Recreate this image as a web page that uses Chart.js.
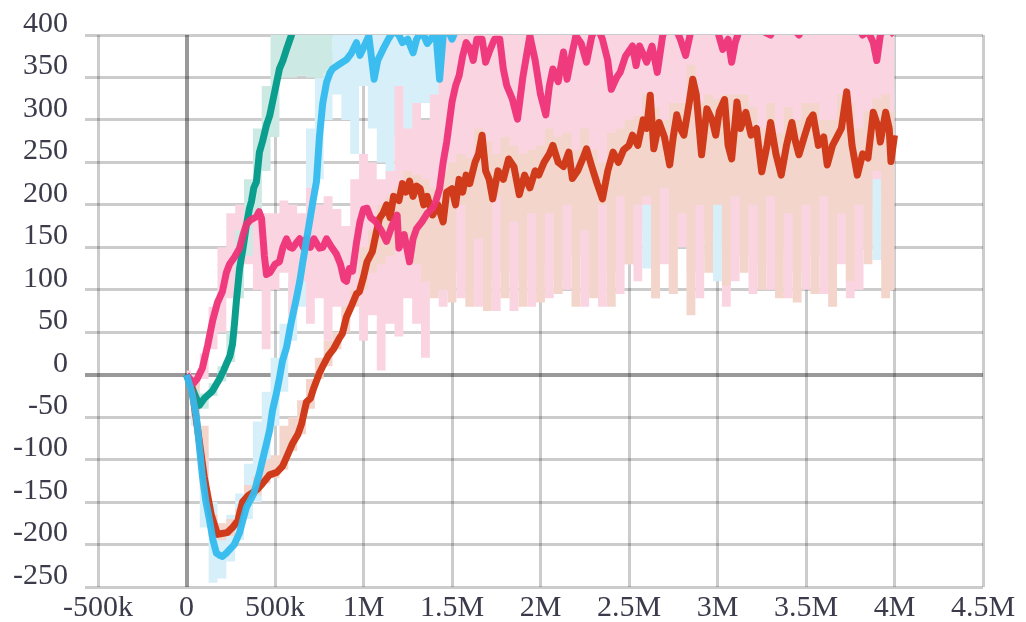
<!DOCTYPE html>
<html>
<head>
<meta charset="utf-8">
<script src="https://cdn.jsdelivr.net/npm/chart.js@4/dist/chart.umd.min.js"></script>
<style>
  html, body { margin: 0; padding: 0; background: #ffffff; }
  #wrap { width: 1026px; height: 622px; }
</style>
</head>
<body>
<div id="wrap"><canvas id="rewardChart" width="1026" height="622"></canvas></div>
<script>

// axis ticks
const xTicks = [-500000, 0, 500000, 1000000, 1500000, 2000000, 2500000, 3000000, 3500000, 4000000, 4500000];
const xTickLabels = ["-500k", "0", "500k", "1M", "1.5M", "2M", "2.5M", "3M", "3.5M", "4M", "4.5M"];
const yTicks = [-250, -200, -150, -100, -50, 0, 50, 100, 150, 200, 250, 300, 350, 400];
const yTickLabels = ["-250", "-200", "-150", "-100", "-50", "0", "50", "100", "150", "200", "250", "300", "350", "400"];

// smoothed curves (steps in thousands)
const tealSteps = [0, 40, 73, 100, 147, 186, 210, 226, 245, 260, 271, 282, 300, 320, 339, 356, 367, 380, 395, 412, 430, 452, 470, 486, 505, 525, 545, 565, 593, 620, 660];
const tealReward = [0, -20, -36, -28, -19, -5, 5, 13, 22, 36, 60, 87, 125, 150, 177, 196, 204, 220, 227, 262, 275, 294, 305, 321, 340, 360, 370, 383, 400, 420, 440];

const cyanSteps = [0, 30, 56, 90, 110, 130, 150, 169, 190, 203, 225, 243, 270, 300, 320, 339, 360, 380, 412, 430, 452, 470, 486, 508, 525, 542, 565, 590, 621, 640, 655, 675, 695, 715, 734, 751, 770, 791, 810, 825, 860, 904, 930, 960, 980, 1000, 1030, 1060, 1080, 1110, 1140, 1170, 1200, 1220, 1250, 1280, 1300, 1330, 1360, 1390, 1410, 1430, 1450, 1470, 1500, 1530, 1560, 1600, 1700];
const cyanReward = [0, -20, -50, -120, -150, -171, -195, -210, -213, -214, -210, -206, -200, -186, -170, -156, -148, -140, -116, -100, -81, -65, -42, -22, -4, 16, 32, 60, 90, 110, 130, 155, 180, 205, 227, 280, 320, 344, 355, 360, 365, 371, 378, 391, 376, 385, 399, 348, 370, 383, 395, 405, 400, 391, 395, 379, 395, 405, 390, 398, 400, 348, 399, 410, 395, 410, 420, 430, 435];

const redSteps = [0, 30, 60, 100, 140, 175, 200, 230, 260, 290, 316, 350, 400, 430, 469, 510, 542, 570, 599, 630, 650, 678, 700, 720, 751, 775, 800, 830, 864, 880, 904, 930, 960, 977, 1000, 1020, 1050, 1070, 1090, 1110, 1130, 1150, 1170, 1200, 1220, 1240, 1260, 1280, 1300, 1320, 1340, 1360, 1390, 1420, 1450, 1470, 1500, 1520, 1540, 1560, 1580, 1600, 1630, 1650, 1670, 1690, 1710, 1730, 1760, 1790, 1820, 1850, 1880, 1910, 1940, 1970, 1990, 2020, 2050, 2070, 2100, 2130, 2160, 2180, 2210, 2240, 2260, 2290, 2320, 2350, 2380, 2410, 2440, 2470, 2500, 2520, 2550, 2580, 2600, 2620, 2640, 2670, 2700, 2730, 2750, 2770, 2790, 2810, 2840, 2860, 2880, 2910, 2940, 2970, 2990, 3010, 3040, 3060, 3080, 3110, 3130, 3160, 3190, 3220, 3250, 3280, 3300, 3330, 3360, 3390, 3420, 3440, 3460, 3490, 3520, 3540, 3570, 3600, 3620, 3650, 3670, 3700, 3730, 3760, 3790, 3820, 3850, 3880, 3910, 3920, 3950, 3970, 3980, 4000];
const redReward = [0, -15, -60, -120, -165, -188, -187, -186, -180, -172, -150, -142, -135, -128, -118, -115, -108, -95, -81, -70, -58, -32, -28, -15, 2, 12, 22, 30, 43, 48, 68, 80, 95, 98, 115, 133, 145, 165, 184, 190, 200, 185, 210, 205, 225, 215, 228, 210, 222, 219, 200, 210, 188, 200, 180, 215, 219, 200, 230, 215, 235, 225, 250, 260, 282, 240, 230, 207, 240, 230, 254, 245, 212, 235, 220, 240, 235, 250, 260, 270, 250, 245, 262, 231, 240, 255, 266, 245, 225, 207, 240, 262, 250, 265, 270, 282, 270, 300, 290, 329, 266, 297, 280, 247, 280, 306, 290, 282, 320, 348, 330, 259, 313, 300, 282, 310, 324, 270, 254, 321, 290, 309, 282, 290, 239, 270, 297, 260, 235, 270, 297, 275, 259, 280, 300, 306, 270, 280, 247, 270, 278, 290, 333, 270, 235, 260, 255, 309, 290, 274, 309, 290, 251, 282];

const pinkSteps = [0, 20, 40, 60, 90, 120, 147, 175, 203, 225, 243, 270, 300, 320, 339, 360, 395, 410, 424, 440, 452, 470, 500, 525, 545, 565, 585, 599, 620, 640, 660, 678, 700, 720, 751, 770, 791, 820, 847, 870, 890, 904, 920, 938, 960, 980, 1000, 1020, 1040, 1070, 1100, 1130, 1160, 1190, 1200, 1230, 1260, 1280, 1300, 1330, 1360, 1390, 1410, 1430, 1450, 1470, 1500, 1520, 1540, 1560, 1580, 1600, 1620, 1640, 1670, 1690, 1710, 1740, 1770, 1790, 1810, 1840, 1870, 1900, 1940, 1970, 2000, 2030, 2050, 2070, 2100, 2130, 2150, 2180, 2200, 2230, 2260, 2290, 2320, 2350, 2380, 2400, 2430, 2450, 2480, 2520, 2540, 2560, 2600, 2630, 2660, 2690, 2720, 2760, 2790, 2820, 2850, 2890, 2930, 2970, 3000, 3030, 3060, 3080, 3100, 3130, 3170, 3210, 3250, 3300, 3340, 3380, 3420, 3460, 3500, 3540, 3580, 3620, 3660, 3700, 3740, 3780, 3820, 3850, 3880, 3900, 3920, 3950, 3980, 4000];
const pinkReward = [0, -5, -10, -5, 8, 35, 63, 85, 98, 120, 130, 138, 149, 165, 177, 182, 186, 192, 184, 140, 118, 120, 130, 133, 150, 160, 150, 149, 155, 160, 150, 160, 150, 160, 149, 150, 160, 150, 142, 130, 112, 110, 125, 122, 155, 180, 195, 196, 185, 180, 170, 157, 175, 188, 149, 165, 133, 160, 172, 180, 190, 196, 205, 219, 250, 274, 321, 340, 352, 375, 391, 385, 370, 395, 395, 368, 380, 395, 395, 360, 340, 325, 301, 350, 399, 370, 330, 306, 340, 360, 345, 380, 348, 380, 399, 390, 368, 399, 410, 395, 370, 336, 350, 356, 375, 387, 364, 387, 368, 387, 356, 399, 415, 410, 395, 376, 405, 420, 415, 410, 405, 383, 395, 368, 391, 410, 420, 415, 405, 400, 415, 420, 410, 400, 415, 410, 420, 415, 405, 410, 405, 415, 400, 405, 391, 370, 400, 410, 405, 400];

// spread across runs, sampled every 50k steps
const bandSteps = [
  0, 50, 100, 150, 200, 250, 300, 350, 400, 450,
  500, 550, 600, 650, 700, 750, 800, 850, 900, 950,
  1000, 1050, 1100, 1150, 1200, 1250, 1300, 1350, 1400, 1450,
  1500, 1550, 1600, 1650, 1700, 1750, 1800, 1850, 1900, 1950,
  2000, 2050, 2100, 2150, 2200, 2250, 2300, 2350, 2400, 2450,
  2500, 2550, 2600, 2650, 2700, 2750, 2800, 2850, 2900, 2950,
  3000, 3050, 3100, 3150, 3200, 3250, 3300, 3350, 3400, 3450,
  3500, 3550, 3600, 3650, 3700, 3750, 3800, 3850, 3900, 3950,
  4000
];

const tealLow = [0, -38, -40, -25, -8, 15, 90, 140, 190, 240, 280, 350, 350, 352, 350, 350, 355, 420, 450, 450, 450];
const tealHigh = [0, -20, -22, -10, 10, 50, 170, 230, 290, 340, 400, 420, 450, 450, 450, 450, 450, 450, 450, 450, 450];

const cyanLow = [
  0, -60, -180, -245, -240, -220, -195, -170, -150, -100,
  -60, -20, 40, 80, 150, 230, 300, 330, 300, 260,
  340, 290, 250, 230, 280, 240, 260, 320, 270, 230,
  170, 200, 180, 240, 160, 210, 150, 190, 220, 170,
  200, 160, 230, 180, 150, 190, 200, 180, 130, 160,
  200, 170, 125, 190, 210, 150, 180, 190, 140, 170,
  110, 160, 150, 200, 170, 210, 190, 150, 180, 200,
  160, 220, 200, 170, 190, 210, 180, 200, 135, 210,
  200
];
const cyanHigh = [
  0, -20, -90, -150, -175, -165, -140, -105, -55, -20,
  20, 60, 110, 180, 290, 350, 380, 420, 450, 450,
  450, 450, 450, 450, 450, 450, 450, 450, 450, 450,
  450, 450, 450, 450, 450, 450, 450, 450, 450, 450,
  450, 450, 450, 450, 450, 450, 450, 450, 450, 450,
  450, 450, 450, 450, 450, 450, 450, 450, 450, 450,
  450, 450, 450, 450, 450, 450, 450, 450, 450, 450,
  450, 450, 450, 450, 450, 450, 450, 450, 450, 450,
  450
];

const redLow = [
  0, -50, -135, -190, -195, -190, -178, -150, -142, -128,
  -122, -112, -90, -70, -40, -5, 10, 30, 50, 80,
  100, 120, 130, 140, 150, 150, 130, 110, 90, 100,
  85, 200, 80, 160, 75, 210, 90, 180, 80, 190,
  85, 190, 95, 200, 80, 170, 90, 200, 80, 210,
  130, 200, 210, 90, 220, 95, 190, 70, 200, 120,
  200, 105, 210, 120, 200, 100, 210, 90, 190, 85,
  200, 95, 210, 80, 190, 110, 200, 130, 240, 90,
  100
];
const redHigh = [
  0, -10, -60, -165, -175, -170, -158, -130, -120, -100,
  -95, -60, -50, -30, -5, 20, 40, 50, 80, 100,
  150, 170, 200, 210, 220, 240, 235, 230, 220, 240,
  250, 260, 255, 290, 275, 260, 280, 270, 260, 265,
  270, 290, 280, 285, 265, 290, 265, 250, 285, 290,
  300, 305, 330, 315, 300, 320, 320, 365, 320, 330,
  325, 330, 330, 330, 315, 290, 320, 285, 315, 300,
  320, 320, 300, 300, 330, 320, 290, 310, 325, 330,
  310
];

const pinkLow = [
  0, -15, -5, 30, 50, 90, 110, 130, 100, 30,
  100, 120, 70, 110, 60, 90, 40, 80, 60, 90,
  40, 70, 5, 60, 45, 90, 60, 20, 100, 80,
  120, 90, 100, 80, 110, 75, 120, 75, 110, 80,
  130, 90, 110, 100, 140, 80, 100, 80, 120, 95,
  130, 110, 200, 90, 130, 95, 150, 120, 90, 160,
  220, 80, 110, 140, 95, 130, 100, 150, 90, 120,
  100, 140, 95, 110, 130, 90, 100, 150, 230, 130,
  100
];
const pinkHigh = [
  5, 0, 25, 80, 150, 190, 200, 210, 230, 190,
  190, 205, 200, 190, 220, 200, 210, 195, 175, 230,
  260, 250, 230, 240, 340, 290, 320, 300, 330, 420,
  450, 450, 450, 450, 450, 450, 450, 450, 450, 450,
  450, 450, 450, 450, 450, 450, 450, 450, 450, 450,
  450, 450, 450, 450, 450, 450, 450, 450, 450, 450,
  450, 450, 450, 450, 450, 450, 450, 450, 450, 450,
  450, 450, 450, 450, 450, 450, 450, 450, 450, 450,
  450
];

const TEAL = "0, 153, 136";
const CYAN = "51, 187, 238";
const RED = "204, 51, 17";
const PINK = "238, 51, 119";

// pale, opaque versions of the line colours for the spread
const TEAL_PALE = "rgb(204, 233, 227)";
const CYAN_PALE = "rgb(214, 239, 249)";
const RED_PALE = "rgb(243, 213, 204)";
const PINK_PALE = "rgb(250, 213, 225)";

function toPoints(steps, values) {
    return values.map((v, i) => ({ x: steps[i] * 1000, y: v }));
}

function curve(steps, values, rgb, order) {
    return {
        data: toPoints(steps, values),
        borderColor: "rgba(" + rgb + ", 0.95)",
        borderWidth: 7,
        borderJoinStyle: "round",
        pointRadius: 0,
        fill: false,
        order: order
    };
}

// a band is a borderless lower line plus an upper line filled down to it
function band(low, high, color, lowIndex, order) {
    return [
        {
            data: toPoints(bandSteps, low),
            borderWidth: 0,
            borderColor: "rgba(0,0,0,0)",
            pointRadius: 0,
            stepped: "middle",
            fill: false,
            order: order
        },
        {
            data: toPoints(bandSteps, high),
            borderWidth: 0,
            borderColor: "rgba(0,0,0,0)",
            backgroundColor: color,
            pointRadius: 0,
            stepped: "middle",
            fill: lowIndex,
            order: order
        }
    ];
}

// higher order is painted first
const datasets = [
    ...band(cyanLow, cyanHigh, CYAN_PALE, 0, 14),
    ...band(pinkLow, pinkHigh, PINK_PALE, 2, 13),
    ...band(redLow, redHigh, RED_PALE, 4, 12),
    ...band(tealLow, tealHigh, TEAL_PALE, 6, 11),
    curve(tealSteps, tealReward, TEAL, 4),
    curve(redSteps, redReward, RED, 3),
    curve(pinkSteps, pinkReward, PINK, 2),
    curve(cyanSteps, cyanReward, CYAN, 1)
];

const font = { family: "'Liberation Serif', 'DejaVu Serif', serif", size: 30 };

function gridColor(ctx) {
    return ctx.tick && ctx.tick.value === 0 ? "rgba(0,0,0,0.4)" : "rgba(0,0,0,0.2)";
}
function gridWidth(ctx) {
    return ctx.tick && ctx.tick.value === 0 ? 4 : 3;
}

new Chart(document.getElementById("rewardChart"), {
    type: "line",
    data: { datasets: datasets },
    options: {
        responsive: false,
        animation: false,
        layout: { padding: { top: 32, right: 43, left: 0, bottom: 0 } },
        plugins: {
            legend: { display: false },
            tooltip: { enabled: false }
        },
        scales: {
            x: {
                type: "linear",
                min: -500000,
                max: 4500000,
                z: 1,
                border: { display: false },
                grid: { color: gridColor, lineWidth: gridWidth, drawTicks: false },
                ticks: {
                    stepSize: 500000,
                    autoSkip: false,
                    maxRotation: 0,
                    padding: 3,
                    color: "#3b3b4b",
                    font: font,
                    callback: (v) => {
                        const i = xTicks.indexOf(v);
                        return i >= 0 ? xTickLabels[i] : "";
                    }
                },
                afterFit: (scale) => { scale.height = 34; }
            },
            y: {
                min: -250,
                max: 400,
                z: 1,
                border: { display: false },
                grid: { color: gridColor, lineWidth: gridWidth, tickLength: 13 },
                ticks: {
                    stepSize: 50,
                    autoSkip: false,
                    padding: 17,
                    labelOffset: -11,
                    color: "#3b3b4b",
                    font: font,
                    callback: (v) => {
                        const i = yTicks.indexOf(v);
                        return i >= 0 ? yTickLabels[i] : "";
                    }
                },
                afterFit: (scale) => { scale.width = 98; }
            }
        }
    }
});
</script>
</body>
</html>
